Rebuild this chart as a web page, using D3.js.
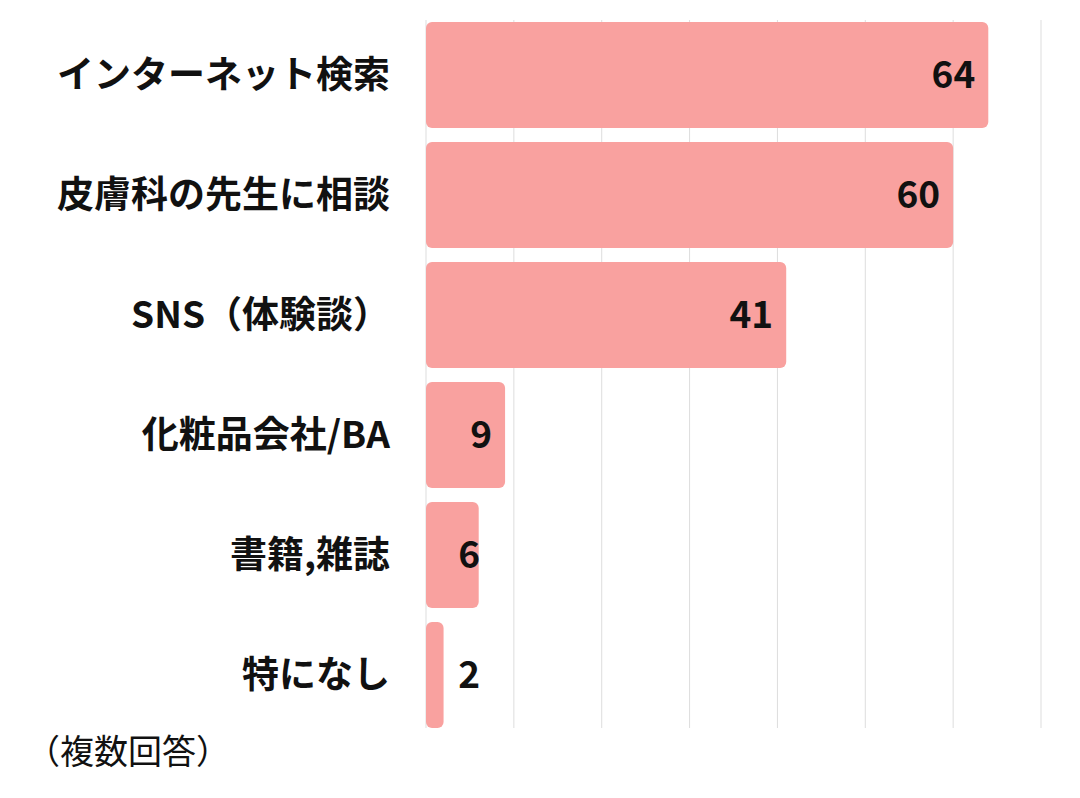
<!DOCTYPE html>
<html>
<head>
<meta charset="utf-8">
<script src="https://cdn.jsdelivr.net/npm/d3@7"></script>
<style>
body { margin: 0; background: #fff; }
text { font-family: "Noto Sans CJK JP", "Noto Sans", sans-serif; }
</style>
</head>
<body>
<svg id="chart" width="1080" height="798"></svg>
<script>
var categories = ['インターネット検索', '皮膚科の先生に相談', 'SNS（体験談）', '化粧品会社/BA', '書籍,雑誌', '特になし'];
var values = [64, 60, 41, 9, 6, 2];
var ticks = [0, 10, 20, 30, 40, 50, 60, 70];

var svg = d3.select('#chart');

var x = d3.scaleLinear().domain([0, 70]).range([426, 1041]);
var y = d3.scaleBand().domain(categories).range([22, 728]).paddingInner(0.1167).paddingOuter(0);

// gridlines
svg.selectAll('line.grid')
  .data(ticks)
  .enter()
    .append('line')
      .attr('class', 'grid')
      .attr('x1', d => x(d))
      .attr('x2', d => x(d))
      .attr('y1', 20)
      .attr('y2', 728)
      .attr('stroke', '#dddddd')
      .attr('stroke-width', 1);

// bars
svg.selectAll('rect.bar')
  .data(values)
  .enter()
    .append('rect')
      .attr('class', 'bar')
      .attr('x', x(0))
      .attr('y', (d, i) => y(categories[i]))
      .attr('width', d => x(d) - x(0))
      .attr('height', y.bandwidth())
      .attr('rx', 6)
      .attr('fill', '#f9a19f');

// category labels
svg.selectAll('text.cat')
  .data(categories)
  .enter()
    .append('text')
      .attr('class', 'cat')
      .attr('x', 390)
      .attr('y', d => y(d) + y.bandwidth() / 2)
      .attr('dy', '0.36em')
      .attr('text-anchor', 'end')
      .attr('font-size', 37)
      .attr('font-weight', 'bold')
      .attr('fill', '#111')
      .text(d => d);

// value labels
svg.selectAll('text.val')
  .data(values)
  .enter()
    .append('text')
      .attr('class', 'val')
      .attr('x', d => Math.max(x(d) - 13, 480))
      .attr('y', (d, i) => y(categories[i]) + y.bandwidth() / 2)
      .attr('dy', '0.36em')
      .attr('text-anchor', 'end')
      .attr('font-size', 37)
      .attr('font-weight', 'bold')
      .attr('fill', '#111')
      .text(d => d);

svg.append('text')
  .attr('x', 26)
  .attr('y', 764)
  .attr('font-size', 34)
  .attr('fill', '#111')
  .text('（複数回答）');
</script>
</body>
</html>
